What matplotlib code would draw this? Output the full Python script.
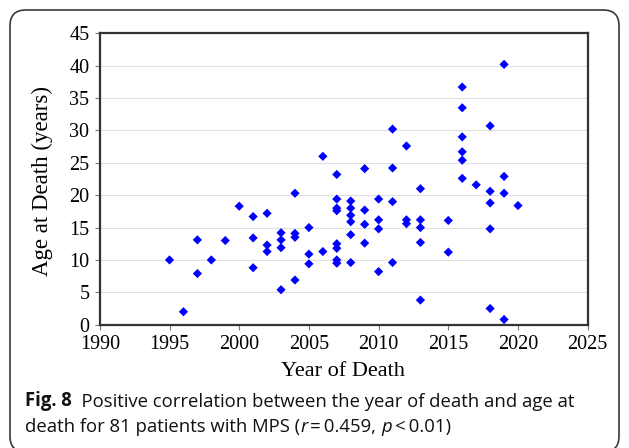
import matplotlib
matplotlib.use("Agg")
import matplotlib.pyplot as plt
from matplotlib.patches import FancyBboxPatch

# Data
years = [1995, 1996, 1997, 1997, 1998, 1999, 2000,
         2001, 2001, 2001,
         2002, 2002, 2002,
         2003, 2003, 2003, 2003,
         2004, 2004, 2004, 2004,
         2005, 2005, 2005,
         2006, 2006,
         2007, 2007, 2007, 2007, 2007, 2007, 2007, 2007,
         2008, 2008, 2008, 2008, 2008, 2008,
         2009, 2009, 2009, 2009,
         2010, 2010, 2010, 2010,
         2011, 2011, 2011, 2011,
         2012, 2012, 2012,
         2013, 2013, 2013, 2013, 2013,
         2015, 2015,
         2016, 2016, 2016, 2016, 2016, 2016,
         2017,
         2018, 2018, 2018, 2018, 2018,
         2019, 2019, 2019, 2019,
         2020]
ages = [10.0, 2.0, 13.1, 7.9, 10.0, 13.0, 18.3,
        16.7, 13.4, 8.8,
        17.2, 12.3, 11.3,
        14.2, 13.1, 11.9, 5.4,
        20.3, 14.1, 13.5, 6.9,
        15.0, 10.9, 9.4,
        26.0, 11.3,
        23.2, 19.4, 18.0, 17.6, 12.5, 11.8, 10.0, 9.5,
        19.1, 18.0, 16.9, 15.9, 13.9, 9.6,
        24.1, 17.7, 15.5, 12.6,
        19.4, 16.2, 14.8, 8.2,
        30.2, 24.2, 19.0, 9.6,
        27.6, 16.2, 15.6,
        21.0, 16.2, 15.0, 12.7, 3.8,
        16.1, 11.2,
        36.7, 33.5, 29.0, 26.7, 25.4, 22.6,
        21.6,
        30.7, 20.6, 18.8, 14.8, 2.5,
        40.2, 22.9, 20.3, 0.8,
        18.4]

x_ticks = [1990, 1995, 2000, 2005, 2010, 2015, 2020, 2025]
y_ticks = [0, 5, 10, 15, 20, 25, 30, 35, 40, 45]

caption_bold = "Fig. 8"
caption_line1 = "  Positive correlation between the year of death and age at"
caption_line2 = [("death for 81 patients with MPS (", "normal"), ("r", "italic"),
                 ("\u2009=\u20090.459, ", "normal"), ("p", "italic"),
                 ("\u2009<\u20090.01)", "normal")]

W, H = 629, 448
fig = plt.figure(figsize=(W / 100, H / 100), dpi=100)

def fx(px):
    return px / W
def fy(py):
    return 1 - py / H

# outer rounded frame
frame = FancyBboxPatch((fx(10), fy(452)), fx(619) - fx(10), fy(10) - fy(452),
                       boxstyle="round,pad=0,rounding_size=0.025",
                       transform=fig.transFigure, facecolor="none",
                       edgecolor="#3a3a3a", linewidth=1.2, zorder=-1,
                       mutation_aspect=W / H)
fig.patches.append(frame)

left, right, top, bottom = 99.8, 587.7, 33.3, 324.7
ax = fig.add_axes([fx(left), fy(bottom), fx(right) - fx(left), fy(top) - fy(bottom)])
ax.set_facecolor("none")

ax.scatter(years, ages, marker="D", s=22, color="#0000FF", edgecolors="none", zorder=3)

ax.set_xlim(1990, 2025)
ax.set_ylim(0, 45)
ax.set_xticks(x_ticks)
ax.set_yticks(y_ticks)
ax.set_xticklabels([str(t) for t in x_ticks])
ax.set_yticklabels([str(t) for t in y_ticks])
ax.yaxis.grid(True, color="#e0e0e0", linewidth=0.8)
ax.set_axisbelow(True)

serif = ["Liberation Serif", "DejaVu Serif"]
for lab in ax.get_xticklabels() + ax.get_yticklabels():
    lab.set_fontfamily(serif)
    lab.set_fontsize(14.5)
    lab.set_color("#000000")
ax.tick_params(axis="both", direction="out", length=3.5, width=0.8, color="#777777")
ax.tick_params(axis="y", pad=4)
ax.tick_params(axis="x", pad=4)

for sp in ax.spines.values():
    sp.set_linewidth(1.6)
    sp.set_color("#333333")

fig.text(fx(343), fy(371), "Year of Death", fontfamily=serif, fontsize=16,
         color="#000000", ha="center", va="center")
fig.text(fx(42), fy(181), "Age at Death (years)", fontfamily=serif, fontsize=16.5,
         color="#000000", ha="center", va="center", rotation=90)

# caption
sans = ["Open Sans", "DejaVu Sans"]

def build_caption(cs):
    arts = []
    t1 = fig.text(fx(25), fy(401), caption_bold, fontfamily=sans, fontweight="bold",
                  fontsize=cs, va="center", ha="left", color="#111111")
    arts.append(t1)
    a1 = plt.Annotation(caption_line1, xy=(1, 0), xycoords=t1, va="bottom", ha="left",
                        fontfamily=sans, fontsize=cs, color="#111111",
                        annotation_clip=False)
    fig.add_artist(a1)
    arts.append(a1)
    prev = fig.text(fx(25), fy(427), caption_line2[0][0], fontfamily=sans, fontsize=cs,
                    va="center", ha="left", color="#111111")
    arts.append(prev)
    for txt, style in caption_line2[1:]:
        a = plt.Annotation(txt, xy=(1, 0), xycoords=prev, va="bottom", ha="left",
                           fontfamily=sans, fontsize=cs, fontstyle=style, color="#111111",
                           annotation_clip=False)
        fig.add_artist(a)
        arts.append(a)
        prev = a
    return arts, t1, a1

cs0 = 13.0
arts, t1, a1 = build_caption(cs0)
fig.canvas.draw()
r = fig.canvas.get_renderer()
x0 = t1.get_window_extent(r).x0
x1 = a1.get_window_extent(r).x1
target = 572 - 25
cs = cs0 * target / (x1 - x0)
for a in arts:
    a.remove()
build_caption(cs)

fig.savefig("out.png", dpi=100)
